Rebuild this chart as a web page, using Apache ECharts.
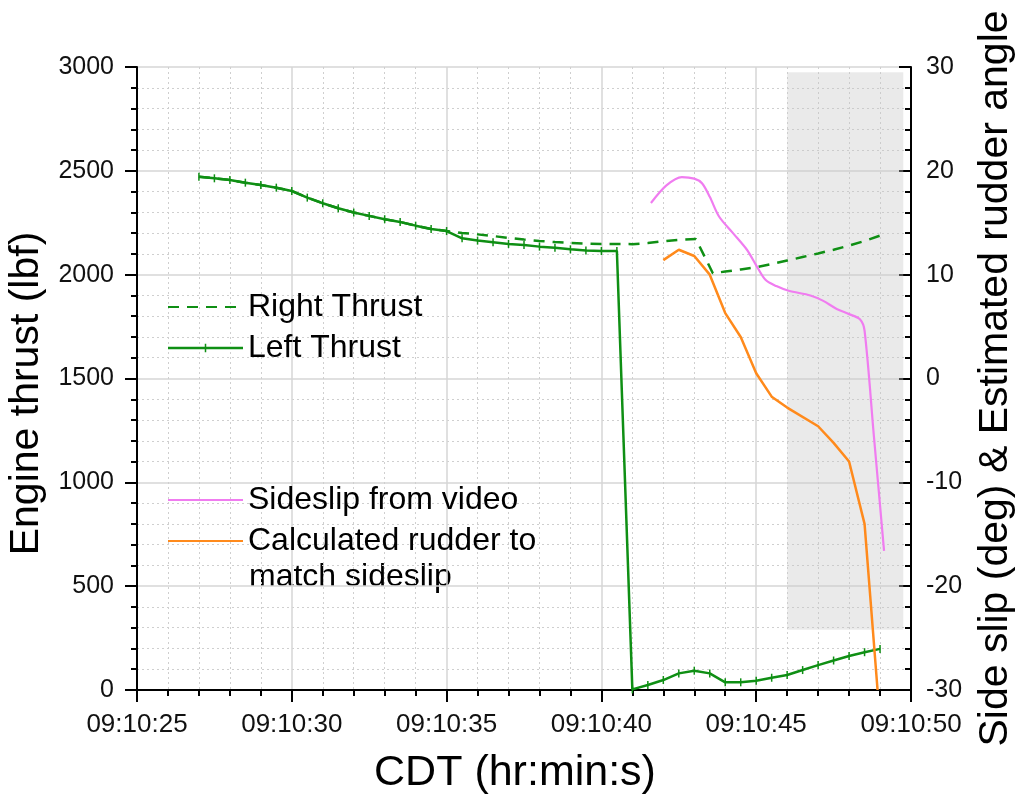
<!DOCTYPE html>
<html>
<head>
<meta charset="utf-8">
<title>Engine thrust and sideslip</title>
<script src="https://cdn.jsdelivr.net/npm/echarts@6/dist/echarts.min.js"></script>
<style>
  html, body { margin: 0; padding: 0; background: #ffffff; }
  #chart { width: 1018px; height: 797px; }
</style>
</head>
<body>
<div id="chart"></div>
<script>
// Time is given as seconds after 09:10:00 CDT.
const xTicks = [25, 30, 35, 40, 45, 50];

// Left engine thrust (lbf), sampled every 0.5 s
const leftTime = [27.0, 27.5, 28.0, 28.5, 29.0, 29.5, 30.0, 30.5, 31.0, 31.5, 32.0, 32.5,
  33.0, 33.5, 34.0, 34.5, 35.0, 35.5, 36.0, 36.5, 37.0, 37.5, 38.0, 38.5, 39.0, 39.5,
  40.0, 40.5, 41.0, 41.5, 42.0, 42.5, 43.0, 43.5, 44.0, 44.5, 45.0, 45.5, 46.0, 46.5,
  47.0, 47.5, 48.0, 48.5, 49.0];
const leftThrust = [2472, 2464, 2456, 2443, 2432, 2419, 2403, 2371, 2344, 2320, 2299, 2283,
  2267, 2254, 2236, 2220, 2210, 2175, 2164, 2156, 2148, 2143, 2135, 2130, 2122, 2116,
  2114, 2114, 3, 24, 48, 80, 93, 80, 37, 37, 45, 59, 72, 96,
  120, 142, 164, 182, 198];

// Right engine thrust (lbf)
const rightTime = [27.0, 27.5, 28.0, 28.5, 29.0, 29.5, 30.0, 30.5, 31.0, 31.5, 32.0, 32.5,
  33.0, 33.5, 34.0, 34.5, 35.0, 35.5, 36.0, 36.5, 37.0, 37.5, 38.0, 38.5, 39.0, 39.5,
  40.0, 40.5, 41.0, 41.5, 42.0, 42.5, 43.05, 43.6, 44.0, 44.5, 45.0, 45.5, 46.0, 46.5,
  47.0, 47.5, 48.0, 48.5, 49.0];
const rightThrust = [2472, 2464, 2456, 2443, 2432, 2419, 2403, 2371, 2344, 2320, 2299, 2283,
  2267, 2254, 2236, 2220, 2210, 2201, 2194, 2186, 2177, 2169, 2162, 2157, 2153, 2150,
  2148, 2148, 2147, 2152, 2161, 2168, 2172, 2007, 2015, 2025, 2036, 2051, 2068, 2085,
  2102, 2120, 2140, 2162, 2188];

// Sideslip from video (deg)
const slipTime = [41.6, 42.1, 42.6, 43.0, 43.25, 43.5, 43.8, 44.25, 44.7, 45.0, 45.3, 45.65,
  46.05, 46.75, 47.15, 47.6, 48.0, 48.35, 48.5, 48.8, 49.13];
const slipDeg = [16.9, 18.6, 19.4, 19.25, 18.8, 17.5, 15.6, 14.0, 12.4, 10.9, 9.5, 8.9,
  8.45, 8.0, 7.5, 6.7, 6.2, 5.7, 4.6, -5.5, -16.6];

// Calculated rudder to match sideslip (deg)
const rudderTime = [42.0, 42.5, 43.0, 43.5, 44.0, 44.5, 45.0, 45.5, 46.0, 47.0, 47.5, 48.0, 48.5, 48.92];
const rudderDeg = [11.4, 12.4, 11.8, 10.0, 6.3, 4.0, 0.5, -1.75, -2.8, -4.6, -6.2, -8.0, -14.0, -30.0];

// Shaded window (time span, deg span on the right axis)
const shadeTime = [46.0, 49.75];
const shadeDeg = [29.5, -24.2];

const pairs = (xs, ys) => xs.map((x, i) => [x, ys[i]]);

const FONT = '"Liberation Sans", Arial, sans-serif';
const GREEN = '#0f8f14';
const PINK = '#f07cf0';
const ORANGE = '#ff8a1c';
// thin vertical tick used as the point marker of the left thrust trace
const TICK_MARK = 'path://M-0.75,-4L0.75,-4L0.75,4L-0.75,4Z';
// legend swatch for the left thrust: a solid line crossed by one tick
const LINE_WITH_TICK = 'path://M0,4H75V6.5H0Z M36.75,1H38.25V9.5H36.75Z';

const chart = echarts.init(document.getElementById('chart'), null, { renderer: 'canvas' });

const tickLabelStyle = { color: '#111', fontSize: 25, fontFamily: FONT };
const axisName = size => ({ color: '#000', fontSize: size, fontFamily: FONT });
const legendText = { color: '#000', fontSize: 32, fontFamily: FONT, lineHeight: 32 };
const hiddenSymbol = { opacity: 0 };

chart.setOption({
  animation: false,
  backgroundColor: '#ffffff',
  grid: { left: 137, right: 107, top: 67, bottom: 107, containLabel: false, outerBoundsMode: 'none' },
  xAxis: {
    type: 'value',
    min: xTicks[0],
    max: xTicks[xTicks.length - 1],
    interval: 5,
    name: 'CDT (hr:min:s)',
    nameLocation: 'middle',
    nameGap: 62,
    nameTextStyle: Object.assign(axisName(43), { padding: [0, 18, 0, 0] }),
    axisLine: { onZero: false, lineStyle: { color: '#000', width: 2 } },
    axisTick: { length: 12, lineStyle: { color: '#000', width: 2 } },
    minorTick: { show: true, splitNumber: 5, length: 6, lineStyle: { color: '#000', width: 2 } },
    axisLabel: { margin: 22, fontSize: 26, color: '#111', fontFamily: FONT,
      formatter: v => '09:10:' + String(v).padStart(2, '0') },
    splitLine: { show: true, lineStyle: { color: '#d6d6d6', width: 1.5 } },
    minorSplitLine: { show: true, lineStyle: { color: '#cfcfcf', width: 1, type: [2, 3] } }
  },
  yAxis: [
    {
      type: 'value',
      min: 0,
      max: 3000,
      interval: 500,
      position: 'left',
      name: 'Engine thrust (lbf)',
      nameLocation: 'middle',
      nameGap: 76,
      nameTextStyle: Object.assign(axisName(41), { padding: [0, 30, 0, 0] }),
      axisLine: { show: true, lineStyle: { color: '#000', width: 2 } },
      axisTick: { show: true, length: 12, lineStyle: { color: '#000', width: 2 } },
      minorTick: { show: true, splitNumber: 5, length: 6, lineStyle: { color: '#000', width: 2 } },
      axisLabel: Object.assign({ margin: 23, formatter: v => String(v) }, tickLabelStyle),
      splitLine: { show: true, lineStyle: { color: '#d6d6d6', width: 1.5 } },
      minorSplitLine: { show: true, lineStyle: { color: '#cfcfcf', width: 1, type: [2, 3] } }
    },
    {
      type: 'value',
      min: -30,
      max: 30,
      interval: 10,
      position: 'right',
      name: 'Side slip (deg) & Estimated rudder angle',
      nameLocation: 'middle',
      nameGap: 64,
      nameTextStyle: axisName(41),
      axisLine: { show: true, lineStyle: { color: '#000', width: 2 } },
      axisTick: { show: true, inside: true, length: 12, lineStyle: { color: '#000', width: 2 } },
      minorTick: { show: true, splitNumber: 5, length: 6, lineStyle: { color: '#000', width: 2 } },
      axisLabel: Object.assign({ margin: 15, formatter: v => String(v) }, tickLabelStyle),
      splitLine: { show: false }
    }
  ],
  legend: [
    {
      orient: 'vertical',
      left: 162,
      top: 286,
      itemWidth: 75,
      itemHeight: 12,
      itemGap: 9,
      selectedMode: false,
      textStyle: legendText,
      data: [
        { name: 'Right Thrust', itemStyle: hiddenSymbol },
        { name: 'Left Thrust', icon: LINE_WITH_TICK }
      ]
    },
    {
      orient: 'vertical',
      left: 162,
      top: 479,
      itemWidth: 75,
      itemHeight: 12,
      itemGap: 9,
      selectedMode: false,
      textStyle: legendText,
      formatter: name => name === 'Calculated rudder to match sideslip' ? 'Calculated rudder to' : name,
      data: [
        { name: 'Sideslip from video', itemStyle: hiddenSymbol },
        { name: 'Calculated rudder to match sideslip', itemStyle: hiddenSymbol }
      ]
    }
  ],
  graphic: [
    {
      type: 'text',
      left: 249,
      top: 561,
      style: { text: 'match sideslip', fill: '#000', font: '32px ' + FONT }
    }
  ],
  series: [
    {
      name: 'Right Thrust',
      type: 'line',
      yAxisIndex: 0,
      data: pairs(rightTime, rightThrust),
      symbol: 'none',
      color: GREEN,
      lineStyle: { color: GREEN, width: 2.5, type: [11, 8] },
      emphasis: { disabled: true },
      z: 3
    },
    {
      name: 'Left Thrust',
      type: 'line',
      yAxisIndex: 0,
      data: pairs(leftTime, leftThrust),
      symbol: TICK_MARK,
      symbolSize: [1.5, 8],
      showSymbol: true,
      color: GREEN,
      itemStyle: { color: GREEN },
      lineStyle: { color: GREEN, width: 2.5 },
      emphasis: { disabled: true },
      z: 4
    },
    {
      name: 'Sideslip from video',
      type: 'line',
      yAxisIndex: 1,
      data: pairs(slipTime, slipDeg),
      symbol: 'none',
      smooth: 0.3,
      color: PINK,
      lineStyle: { color: PINK, width: 2.2 },
      emphasis: { disabled: true },
      z: 5,
      markArea: {
        silent: true,
        itemStyle: { color: 'rgba(200, 200, 200, 0.38)' },
        data: [[{ coord: [shadeTime[0], shadeDeg[0]] }, { coord: [shadeTime[1], shadeDeg[1]] }]]
      }
    },
    {
      name: 'Calculated rudder to match sideslip',
      type: 'line',
      yAxisIndex: 1,
      data: pairs(rudderTime, rudderDeg),
      symbol: 'none',
      color: ORANGE,
      lineStyle: { color: ORANGE, width: 2.5 },
      emphasis: { disabled: true },
      z: 5
    }
  ]
});
</script>
</body>
</html>
